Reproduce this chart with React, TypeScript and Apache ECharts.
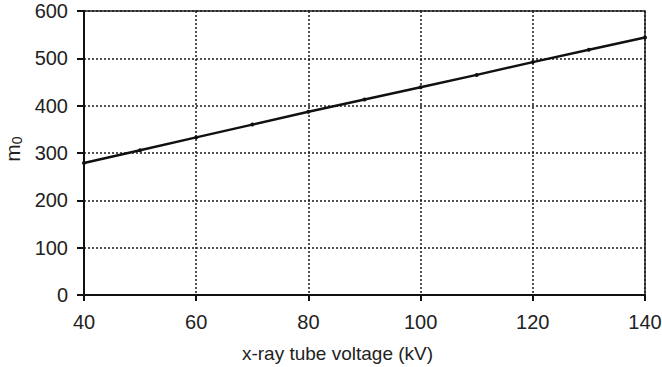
import React, { useEffect, useRef } from "react";
import * as echarts from "echarts";

const voltages = [40, 50, 60, 70, 80, 90, 100, 110, 120, 130, 140];
const m0Values = [279, 306, 333, 360, 387, 413, 439, 465, 492, 518, 544];

export default function App() {
  const ref = useRef<HTMLDivElement>(null);
  useEffect(() => {
    if (!ref.current) return;
    const chart = echarts.init(ref.current, null, { renderer: "svg" });
    const font = "Liberation Sans, Arial, sans-serif";
    chart.setOption({
      animation: false,
      backgroundColor: "#ffffff",
      grid: {
        left: 84,
        right: 17,
        top: 11,
        bottom: 72,
        containLabel: false,
        outerBoundsMode: "none",
        show: true,
        borderColor: "#222",
        borderWidth: 1.5,
      },
      xAxis: {
        type: "value",
        min: 40,
        max: 140,
        interval: 20,
        name: "x-ray tube voltage (kV)",
        nameLocation: "middle",
        nameGap: 49,
        nameTextStyle: { fontFamily: font, fontSize: 19, color: "#222", padding: [0, 54, 0, 0] },
        axisLine: { show: true, lineStyle: { color: "#111", width: 2 } },
        axisTick: { show: true, length: 6, lineStyle: { color: "#111", width: 2 } },
        axisLabel: { fontFamily: font, fontSize: 20, color: "#222", margin: 17 },
        splitLine: { show: true, lineStyle: { color: "#1a1a1a", type: [2, 2], width: 1.5 } },
      },
      yAxis: {
        type: "value",
        min: 0,
        max: 600,
        interval: 100,
        name: "m{sub|0}",
        nameLocation: "middle",
        nameGap: 58,
        nameRotate: 90,
        nameTextStyle: {
          fontFamily: font,
          fontSize: 21,
          color: "#222",
          padding: [0, 0, 0, 8],
          rich: {
            sub: { fontFamily: font, fontSize: 14, color: "#222", verticalAlign: "bottom", padding: [8, 0, 0, 0] },
          },
        },
        axisLine: { show: true, lineStyle: { color: "#111", width: 2 } },
        axisTick: { show: true, length: 7, lineStyle: { color: "#111", width: 2 } },
        axisLabel: { fontFamily: font, fontSize: 20, color: "#222", margin: 16 },
        splitLine: { show: true, lineStyle: { color: "#1a1a1a", type: [2, 2], width: 1.5 } },
      },
      series: [
        {
          type: "line",
          data: voltages.map((v, i) => [v, m0Values[i]]),
          symbol: "circle",
          symbolSize: 4,
          itemStyle: { color: "#111" },
          lineStyle: { color: "#111", width: 2.5 },
        },
      ],
    });
    return () => chart.dispose();
  }, []);
  return (
    <div
      ref={ref}
      style={{ position: "fixed", left: 0, top: 0, width: 662, height: 367 }}
    />
  );
}
